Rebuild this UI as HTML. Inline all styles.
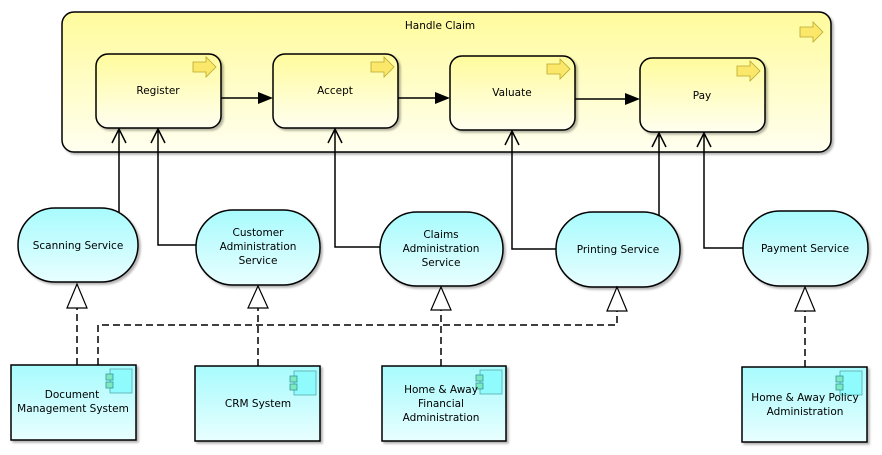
<!DOCTYPE html>
<html><head><meta charset="utf-8"><style>
body{margin:0;background:#fff}
svg{display:block}
text{font-family:"DejaVu Sans","Liberation Sans",sans-serif;font-size:10.5px;fill:#000;text-anchor:middle}
</style></head><body>
<svg width="882" height="455" viewBox="0 0 882 455" xmlns="http://www.w3.org/2000/svg">
<defs>
<linearGradient id="y" x1="0" y1="0" x2="0" y2="1"><stop offset="0" stop-color="#fffb9c"/><stop offset="1" stop-color="#fffff0"/></linearGradient>
<linearGradient id="c" x1="0" y1="0" x2="0" y2="1"><stop offset="0" stop-color="#a8fbfd"/><stop offset="1" stop-color="#e8feff"/></linearGradient>
<g id="pa"><path d="M0,4 h13 v-5 l10,10 l-10,10 v-5 h-13 z" fill="#fbe86a" stroke="#b8a830" stroke-width="0.8"/></g>
<g id="ci"><rect x="0" y="0" width="22" height="24" fill="#90fbfd" stroke="#5aa" stroke-width="0.8"/><rect x="-4" y="5" width="7" height="6" fill="#7ee8c0" stroke="#399" stroke-width="0.8"/><rect x="-4" y="13" width="7" height="6" fill="#7ee8c0" stroke="#399" stroke-width="0.8"/></g>
<filter id="s" x="-5%" y="-5%" width="115%" height="115%"><feDropShadow dx="2" dy="2" stdDeviation="1" flood-opacity="0.3"/></filter>
</defs>
<g stroke="#000" stroke-width="1.5">
<rect x="62" y="12" width="769" height="140" rx="12" fill="url(#y)" filter="url(#s)"/>
<rect x="96" y="54" width="125" height="74" rx="12" fill="url(#y)" filter="url(#s)"/>
<rect x="273" y="54" width="125" height="74" rx="12" fill="url(#y)" filter="url(#s)"/>
<rect x="450" y="56" width="125" height="74" rx="12" fill="url(#y)" filter="url(#s)"/>
<rect x="640" y="58" width="125" height="74" rx="12" fill="url(#y)" filter="url(#s)"/>
</g>
<use href="#pa" x="800" y="23"/>
<use href="#pa" x="193" y="58"/>
<use href="#pa" x="371" y="58"/>
<use href="#pa" x="547" y="60"/>
<use href="#pa" x="737" y="62"/>
<text x="440" y="29">Handle Claim</text>
<text x="158" y="94">Register</text>
<text x="335" y="94">Accept</text>
<text x="512" y="96">Valuate</text>
<text x="702" y="99">Pay</text>
<g stroke="#000" stroke-width="1.5" fill="none">
<line x1="221" y1="98" x2="258" y2="98"/><line x1="398" y1="98" x2="436" y2="98"/><line x1="575" y1="99" x2="626" y2="99"/>
</g>
<g fill="#000"><path d="M258,92 L273,98 L258,104 z"/><path d="M435,92 L450,98 L435,104 z"/><path d="M625,93 L640,99 L625,105 z"/></g>
<g stroke="#000" stroke-width="1.5" fill="none">
<path d="M119,212 V129 M112,143 L119,129 L126,143"/>
<path d="M196,245 H158 V129 M151,143 L158,129 L165,143"/>
<path d="M380,247 H335 V129 M328,143 L335,129 L342,143"/>
<path d="M556,249 H512 V131 M505,145 L512,131 L519,145"/>
<path d="M659,216 V133 M652,147 L659,133 L666,147"/>
<path d="M743,248 H704 V133 M697,147 L704,133 L711,147"/>
</g>
<g stroke="#000" stroke-width="1.5" fill="url(#c)" filter="url(#s)">
<rect x="18" y="208" width="120" height="74" rx="37"/>
<rect x="196" y="210" width="124" height="75" rx="37"/>
<rect x="380" y="212" width="123" height="74" rx="37"/>
<rect x="556" y="212" width="124" height="75" rx="37"/>
<rect x="743" y="211" width="125" height="75" rx="37"/>
</g>
<text x="78" y="249">Scanning Service</text>
<text x="258" y="236">Customer</text><text x="258" y="250">Administration</text><text x="258" y="264">Service</text>
<text x="441" y="238">Claims</text><text x="441" y="252">Administration</text><text x="441" y="266">Service</text>
<text x="618" y="253">Printing Service</text>
<text x="805" y="252">Payment Service</text>
<g stroke="#000" stroke-width="1.5" fill="none" stroke-dasharray="7,4">
<path d="M77,365 V308"/>
<path d="M98,365 V325 H617 V311"/>
<path d="M258,366 V308"/>
<path d="M441,366 V308"/>
<path d="M805,367 V311"/>
</g>
<g stroke="#000" stroke-width="1.2" fill="#fff">
<path d="M77,284 L67,308 H87 z"/>
<path d="M258,286 L248,308 H268 z"/>
<path d="M441,287 L431,310 H451 z"/>
<path d="M617,287 L607,311 H627 z"/>
<path d="M805,287 L795,311 H815 z"/>
</g>
<g stroke="#000" stroke-width="1.5" fill="url(#c)" filter="url(#s)">
<rect x="11" y="365" width="125" height="75"/>
<rect x="195" y="366" width="125" height="75"/>
<rect x="382" y="366" width="124" height="75"/>
<rect x="742" y="367" width="125" height="75"/>
</g>
<use href="#ci" x="110" y="369"/>
<use href="#ci" x="294" y="371"/>
<use href="#ci" x="480" y="370"/>
<use href="#ci" x="840" y="371"/>
<text x="72" y="398">Document</text><text x="73" y="412">Management System</text>
<text x="258" y="407">CRM System</text>
<text x="441" y="393">Home &amp; Away</text><text x="441" y="407">Financial</text><text x="441" y="421">Administration</text>
<text x="805" y="401">Home &amp; Away Policy</text><text x="805" y="415">Administration</text>
</svg>
</body></html>
